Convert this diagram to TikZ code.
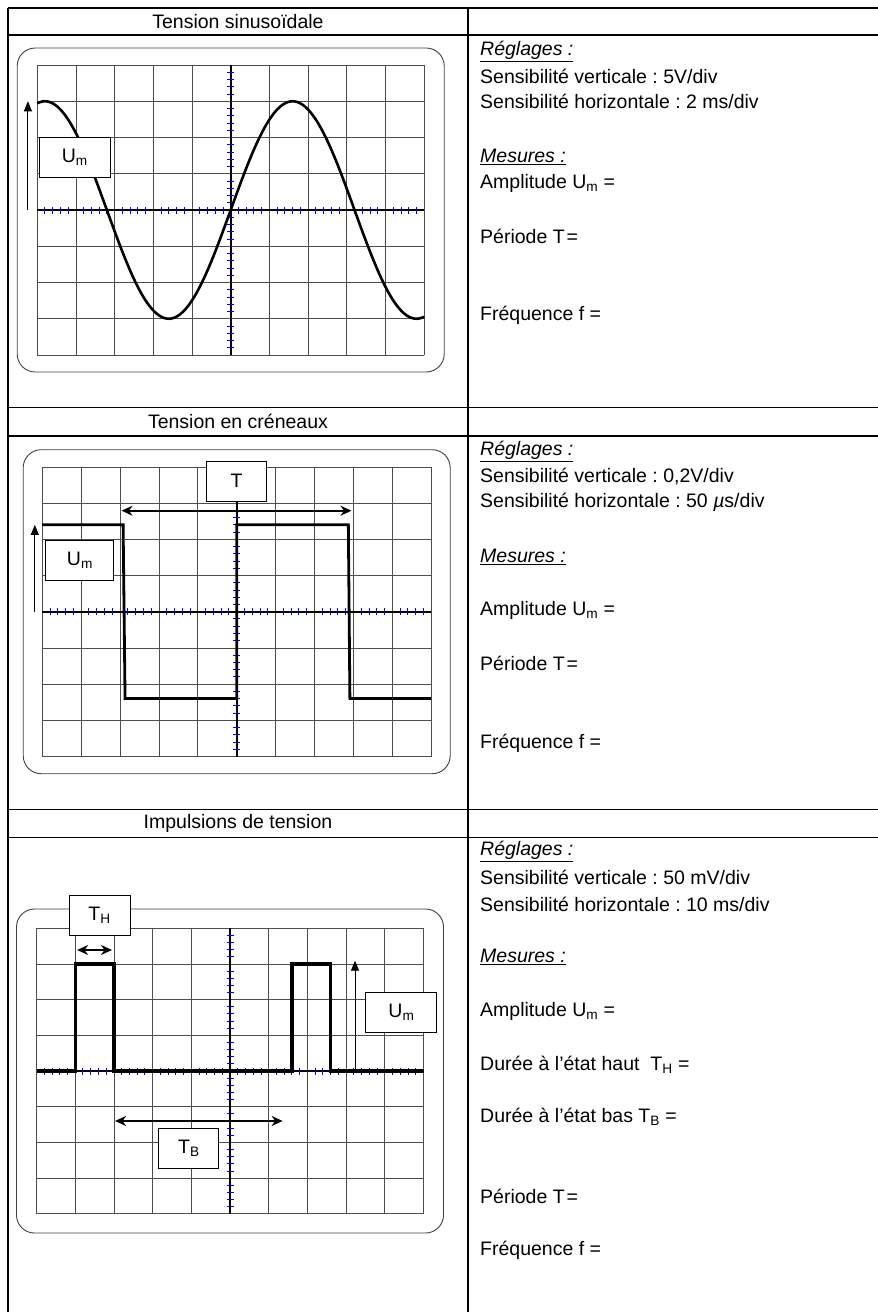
\documentclass[tikz,border=0pt]{standalone}
\usepackage{fontspec}
\setmainfont{Liberation Sans}
\usetikzlibrary{arrows.meta}
\frenchspacing

\begin{document}
\begin{tikzpicture}[x=1pt, y=-1pt,
    every node/.style={font=\fontsize{19.5}{23}\selectfont},
    trait/.style={line width=1.2pt},
    texte/.style={anchor=west, inner sep=0pt},
    titre/.style={inner sep=0pt},
    cadre/.style={draw, fill=white, line width=1pt, minimum height=40pt, inner sep=0pt},
    signal/.style={line width=2.8pt},
    fleche/.style={line width=0.9pt, -{Triangle[length=10pt,width=8pt]}},
    duree/.style={line width=1.7pt, {Stealth[length=11pt,width=10pt]}-{Stealth[length=11pt,width=10pt]}},
    pics/ecran/.style={code={
        \draw[black!75, line width=0.9pt, rounded corners=18pt] (-213.5pt,-162pt) rectangle (213.5pt,162pt);
        \foreach \i in {-5,...,5} \draw[black!70, line width=0.8pt] (\i,-4) -- (\i,4);
        \foreach \j in {-4,...,4} \draw[black!70, line width=0.8pt] (-5,\j) -- (5,\j);
        \draw[line width=2.2pt] (-5,0) -- (5,0) (0,-4) -- (0,4);
        \foreach \i in {-5,...,4} \foreach \k in {0.2,0.4,0.6,0.8}
          \draw[blue, line width=0.9pt] (\i+\k,0) ++(0,-3.5pt) -- ++(0,7pt);
        \foreach \j in {-4,...,3} \foreach \k in {0.2,0.4,0.6,0.8}
          \draw[blue, line width=0.9pt] (0,\j+\k) ++(-3.5pt,0) -- ++(7pt,0);
    }}]
  \useasboundingbox (0,0) rectangle (878,1312);

  \draw[trait] (8,8) -- (878,8) (8,35) -- (878,35)
    (8,407.5) -- (878,407.5) (8,436) -- (878,436)
    (8,809.3) -- (878,809.3) (8,837.3) -- (878,837.3)
    (8,8) -- (8,1312) (468,8) -- (468,1312);

  \node[titre] (titreSin) at (238,21.5) {Tension sinusoïdale};
  \node[titre] (titreCren) at (238,421.7) {Tension en créneaux};
  \node[titre] (titreImp) at (238,823) {Impulsions de tension};

  \begin{scope}[shift={(230.7,210)}, x=38.7pt, y=36.25pt]
    \pic at (0,0) {ecran};
    \draw[signal, line width=2.6pt] plot[domain=-5:5, samples=150, smooth] (\x,{3*sin(360*\x/6.4)});
    \coordinate (bas1) at (-5.24,0);
    \coordinate (haut1) at (-5.24,3);
    \draw[fleche] (bas1) -- (haut1);
    \node[cadre, minimum width=71pt] (um1) at (-4.03,1.46) {U\textsubscript{m}};
  \end{scope}

  \begin{scope}[shift={(236.7,611.7)}, x=38.9pt, y=36.2pt]
    \pic at (0,0) {ecran};
    \draw[signal] (-5,2.4) -- (-2.92,2.4) -- (-2.87,-2.4) -- (0,-2.4) -- (0,2.4)
      -- (2.87,2.4) -- (2.91,-2.4) -- (5,-2.4);
    \coordinate (tg) at (-2.96,2.79);
    \coordinate (td) at (2.95,2.79);
    \draw[duree] (tg) -- (td);
    \coordinate (bas2) at (-5.19,0);
    \coordinate (haut2) at (-5.19,2.4);
    \draw[fleche] (bas2) -- (haut2);
    \node[cadre, minimum width=60pt] (per) at (0,3.61) {T};
    \node[cadre, minimum width=68pt] (um2) at (-4.03,1.42) {U\textsubscript{m}};
  \end{scope}

  \begin{scope}[shift={(230,1071)}, x=38.7pt, y=35.7pt]
    \pic at (0,0) {ecran};
    \draw[signal, line width=3.2pt] (-5,0) -- (-4,0) -- (-4,3) -- (-3,3) -- (-3,0)
      -- (1.6,0) -- (1.6,3) -- (2.6,3) -- (2.6,0) -- (5,0);
    \coordinate (thg) at (-3.95,3.39);
    \coordinate (thd) at (-3.05,3.39);
    \draw[duree] (thg) -- (thd);
    \coordinate (tbg) at (-2.97,-1.4);
    \coordinate (tbd) at (1.36,-1.4);
    \draw[duree] (tbg) -- (tbd);
    \coordinate (bas3) at (3.23,0);
    \coordinate (haut3) at (3.23,3.09);
    \draw[fleche] (bas3) -- (haut3);
    \node[cadre, minimum width=61pt] (th) at (-3.37,4.36) {T\textsubscript{H}};
    \node[cadre, minimum width=60pt] (tb) at (-1.06,-2.17) {T\textsubscript{B}};
    \node[cadre, minimum width=71pt] (um3) at (4.43,1.65) {U\textsubscript{m}};
  \end{scope}

  \node[texte] (reg1) at (480,51.7) {\underline{\textit{Réglages :}}};
  \node[texte] (sv1) at (480,76.7) {Sensibilité verticale : 5V/div};
  \node[texte] (sh1) at (480,101.7) {Sensibilité horizontale : 2 ms/div};
  \node[texte] (mes1) at (480,156.7) {\underline{\textit{Mesures :}}};
  \node[texte] (amp1) at (480,183.3) {Amplitude U\textsubscript{m} =};
  \node[texte] (per1) at (480,236.7) {Période T\kern2pt=};
  \node[texte] (freq1) at (480,315) {Fréquence f =};

  \node[texte] (reg2) at (480,451.7) {\underline{\textit{Réglages :}}};
  \node[texte] (sv2) at (480,476.7) {Sensibilité verticale : 0,2V/div};
  \node[texte] (sh2) at (480,502.7) {Sensibilité horizontale : 50 \textit{µ}s/div};
  \node[texte] (mes2) at (480,556.7) {\underline{\textit{Mesures :}}};
  \node[texte] (amp2) at (480,610) {Amplitude U\textsubscript{m} =};
  \node[texte] (per2) at (480,663.3) {Période T\kern2pt=};
  \node[texte] (freq2) at (480,743.3) {Fréquence f =};

  \node[texte] (reg3) at (480,851.7) {\underline{\textit{Réglages :}}};
  \node[texte] (sv3) at (480,877.3) {Sensibilité verticale : 50 mV/div};
  \node[texte] (sh3) at (480,904) {Sensibilité horizontale : 10 ms/div};
  \node[texte] (mes3) at (480,956.7) {\underline{\textit{Mesures :}}};
  \node[texte] (amp3) at (480,1011.7) {Amplitude U\textsubscript{m} =};
  \node[texte] (dh3) at (480,1065) {Durée à l’état haut \ T\textsubscript{H} =};
  \node[texte] (db3) at (480,1116.7) {Durée à l’état bas T\textsubscript{B} =};
  \node[texte] (per3) at (480,1196.7) {Période T\kern2pt=};
  \node[texte] (freq3) at (480,1250) {Fréquence f =};
\end{tikzpicture}
\end{document}
